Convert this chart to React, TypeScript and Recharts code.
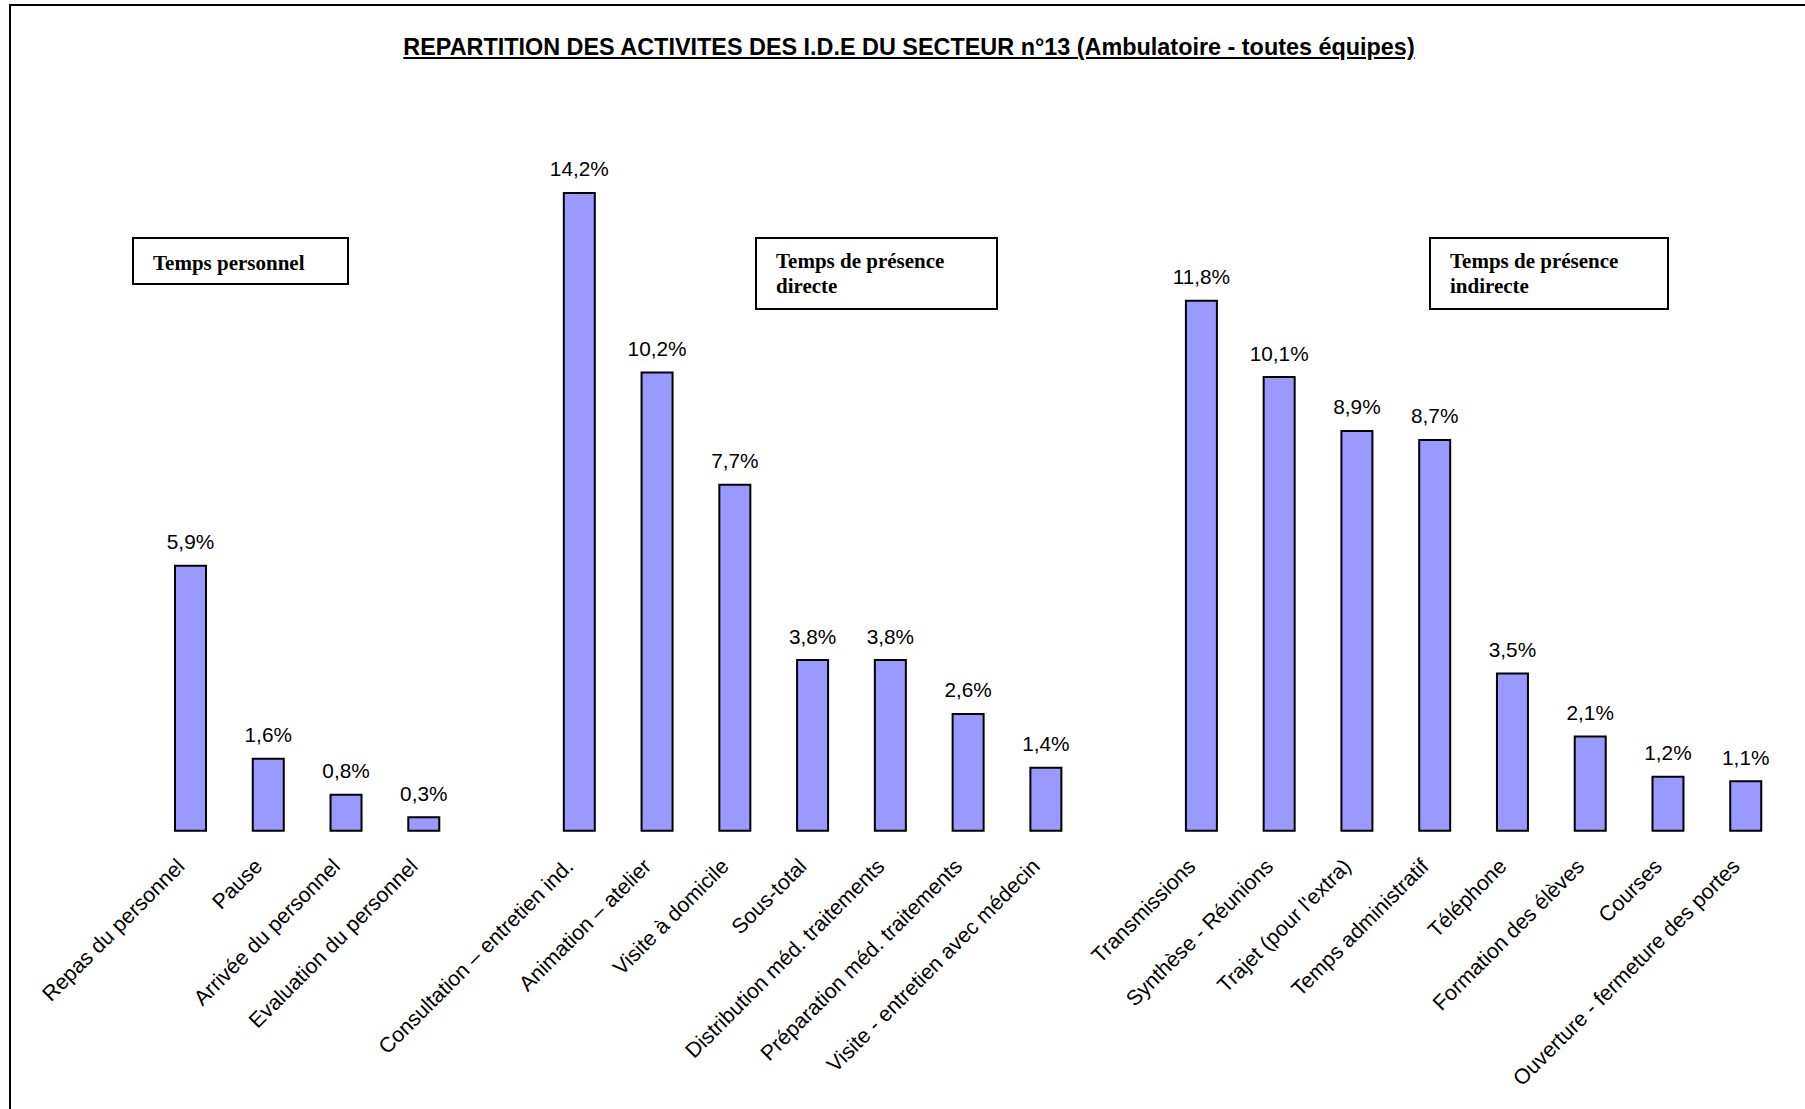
import { BarChart, Bar, XAxis, YAxis, LabelList } from 'recharts';

const categories = [
  'Repas du personnel',
  'Pause',
  'Arrivée du personnel',
  'Evaluation du personnel',
  '',
  'Consultation – entretien ind.',
  'Animation – atelier',
  'Visite à domicile',
  'Sous-total',
  'Distribution méd. traitements',
  'Préparation méd. traitements',
  'Visite - entretien avec médecin',
  '',
  'Transmissions',
  'Synthèse - Réunions',
  "Trajet (pour l'extra)",
  'Temps administratif',
  'Téléphone',
  'Formation des élèves',
  'Courses',
  'Ouverture - fermeture des portes',
];

const values: (number | null)[] = [
  5.9, 1.6, 0.8, 0.3, null,
  14.2, 10.2, 7.7, 3.8, 3.8, 2.6, 1.4, null,
  11.8, 10.1, 8.9, 8.7, 3.5, 2.1, 1.2, 1.1,
];

const groupBoxes = [
  { lines: ['Temps personnel'], left: 132, top: 237, width: 217, height: 48, padTop: 12 },
  { lines: ['Temps de présence', 'directe'], left: 755, top: 237, width: 243, height: 73, padTop: 10 },
  { lines: ['Temps de présence', 'indirecte'], left: 1429, top: 237, width: 240, height: 73, padTop: 10 },
];

const title = 'REPARTITION DES ACTIVITES DES I.D.E DU SECTEUR n°13 (Ambulatoire - toutes équipes)';

const data = categories.map((name, i) => ({ name, value: values[i] }));

const sans = '"Liberation Sans", Arial, sans-serif';
const serif = '"Liberation Serif", "Times New Roman", serif';

const fmt = (v: number) => v.toFixed(1).replace('.', ',') + '%';

function CategoryTick(props: any) {
  const { x, y, payload } = props;
  if (!payload.value) return null;
  const ax = x - 5;
  const ay = y + 29;
  return (
    <text
      x={ax}
      y={ay}
      textAnchor="end"
      transform={`rotate(-45, ${ax}, ${ay})`}
      fontFamily={sans}
      fontSize={21.3}
      fill="#000"
    >
      {payload.value}
    </text>
  );
}

function ValueLabel(props: any) {
  const { x, y, width, value } = props;
  if (value == null) return null;
  return (
    <text
      x={x + width / 2}
      y={y - 16.5}
      textAnchor="middle"
      fontFamily={sans}
      fontSize={20.8}
      fill="#000"
    >
      {fmt(value)}
    </text>
  );
}

export default function App() {
  return (
    <div
      style={{
        position: 'absolute',
        left: 0,
        top: 0,
        width: 1805,
        height: 1109,
        overflow: 'hidden',
        background: '#fff',
      }}
    >
      {/* frame, only top and left edges show */}
      <div
        style={{
          position: 'absolute',
          left: 9,
          top: 4,
          width: 1900,
          height: 1200,
          borderTop: '2px solid #000',
          borderLeft: '2px solid #000',
        }}
      />

      <div
        style={{
          position: 'absolute',
          left: 0,
          top: 36,
          width: 1818,
          textAlign: 'center',
          fontFamily: sans,
          fontWeight: 'bold',
          fontSize: 23.4,
          lineHeight: '23px',
          textDecoration: 'underline',
          color: '#000',
        }}
      >
        {title}
      </div>

      <div style={{ position: 'absolute', left: 0, top: 0 }}>
        <BarChart
          width={1805}
          height={1109}
          data={data}
          margin={{ top: 157, right: 20, left: 152, bottom: 0 }}
        >
          <XAxis
            dataKey="name"
            height={278.3}
            interval={0}
            axisLine={false}
            tickLine={false}
            tick={<CategoryTick />}
          />
          <YAxis hide domain={[0, 15]} />
          <Bar
            dataKey="value"
            fill="#9999FF"
            stroke="#000"
            strokeWidth={2}
            barSize={31}
            isAnimationActive={false}
          >
            <LabelList dataKey="value" content={<ValueLabel />} />
          </Bar>
        </BarChart>
      </div>

      {groupBoxes.map((b) => (
        <div
          key={b.left}
          style={{
            position: 'absolute',
            left: b.left,
            top: b.top,
            width: b.width,
            height: b.height,
            boxSizing: 'border-box',
            border: '2px solid #000',
            background: '#fff',
            paddingLeft: 19,
            paddingTop: b.padTop,
            fontFamily: serif,
            fontWeight: 'bold',
            fontSize: 21,
            lineHeight: '25px',
            color: '#000',
          }}
        >
          {b.lines.map((l) => (
            <div key={l}>{l}</div>
          ))}
        </div>
      ))}
    </div>
  );
}
